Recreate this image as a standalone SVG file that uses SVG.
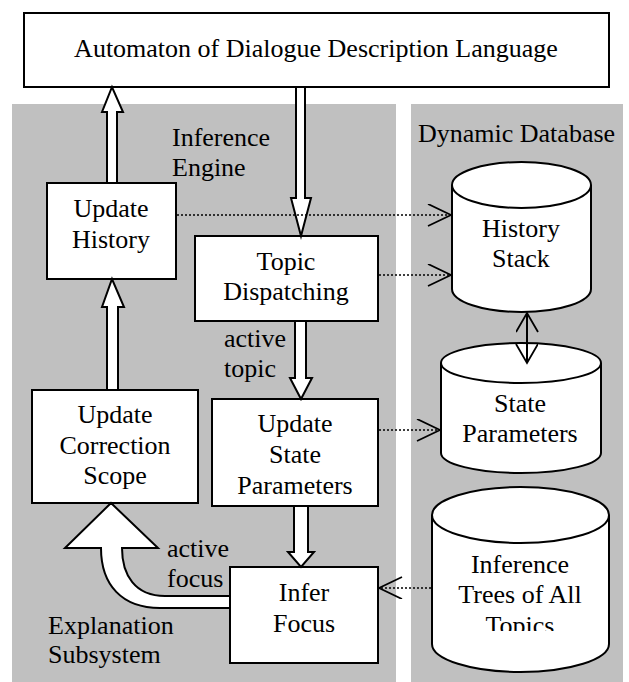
<svg xmlns="http://www.w3.org/2000/svg" width="629" height="682" viewBox="0 0 629 682">
  <style>
    .panel { fill: #c0c0c0; }
    .box { fill: #ffffff; stroke: #000000; stroke-width: 2; }
    .flow { fill: #ffffff; stroke: #000000; stroke-width: 2; stroke-linejoin: miter; }
    .dots { fill: none; stroke: #000000; stroke-width: 1.6; stroke-dasharray: 2 2; }
    .solid { fill: none; stroke: #000000; stroke-width: 2; }
    text { font-family: "Liberation Serif", "Times New Roman", serif; font-size: 26px; fill: #000000; }
    .c { text-anchor: middle; }
  </style>
  <defs>
    <marker id="vee" markerUnits="userSpaceOnUse" markerWidth="26" markerHeight="24" refX="24" refY="11" orient="auto-start-reverse" viewBox="0 0 26 24">
      <path d="M1,0 L24,11 L1,22" fill="none" stroke="#000000" stroke-width="1.8"/>
    </marker>
    <marker id="veeSmall" markerUnits="userSpaceOnUse" markerWidth="22" markerHeight="24" refX="20" refY="11" orient="auto-start-reverse" viewBox="0 0 22 24">
      <path d="M1,0 L20,11 L1,22" fill="none" stroke="#000000" stroke-width="1.8"/>
    </marker>
    <clipPath id="trees-clip">
      <rect x="430" y="540" width="180" height="91"/>
    </clipPath>
  </defs>

  <!-- background panels -->
  <rect class="panel" x="12" y="104" width="384" height="578"/>
  <rect class="panel" x="411" y="104" width="212" height="578"/>
  <text x="172" y="146">Inference</text>
  <text x="172" y="176">Engine</text>
  <text x="48" y="634">Explanation</text>
  <text x="48" y="663">Subsystem</text>
  <text x="418" y="142">Dynamic Database</text>

  <!-- process nodes -->
  <g id="automaton">
    <rect class="box" x="24" y="13" width="585" height="74"/>
    <text class="c" x="316" y="57">Automaton of Dialogue Description Language</text>
  </g>
  <g id="update-history">
    <rect class="box" x="47" y="183" width="129" height="96"/>
    <text class="c" x="111" y="217">Update</text>
    <text class="c" x="111" y="248">History</text>
  </g>
  <g id="topic-dispatching">
    <rect class="box" x="195" y="236" width="183" height="85"/>
    <text class="c" x="286" y="270">Topic</text>
    <text class="c" x="286" y="300">Dispatching</text>
  </g>
  <g id="update-correction-scope">
    <rect class="box" x="32" y="390" width="166" height="113"/>
    <text class="c" x="115" y="423">Update</text>
    <text class="c" x="115" y="454">Correction</text>
    <text class="c" x="115" y="484">Scope</text>
  </g>
  <g id="update-state-parameters">
    <rect class="box" x="212" y="399" width="166" height="107"/>
    <text class="c" x="295" y="432">Update</text>
    <text class="c" x="295" y="463">State</text>
    <text class="c" x="295" y="494">Parameters</text>
  </g>
  <g id="infer-focus">
    <rect class="box" x="230" y="567" width="148" height="96"/>
    <text class="c" x="304" y="601">Infer</text>
    <text class="c" x="304" y="632">Focus</text>
  </g>

  <!-- data stores -->
  <g id="history-stack">
    <path class="box" d="M452,185 L452,289 A69.5,23 0 0 0 591,289 L591,185 A69.5,23 0 0 0 452,185 Z"/>
    <path class="box" d="M452,185 A69.5,23 0 0 0 591,185" fill="none"/>
    <text class="c" x="521" y="237">History</text>
    <text class="c" x="521" y="267">Stack</text>
  </g>
  <g id="state-parameters">
    <path class="box" d="M441,363 L441,453 A80,20 0 0 0 601,453 L601,363 A80,20 0 0 0 441,363 Z"/>
    <path class="box" d="M441,363 A80,20 0 0 0 601,363" fill="none"/>
    <text class="c" x="520" y="412">State</text>
    <text class="c" x="520" y="442">Parameters</text>
  </g>
  <g id="inference-trees">
    <path class="box" d="M432,515 L432,644 A88.5,28 0 0 0 609,644 L609,515 A88.5,28 0 0 0 432,515 Z"/>
    <path class="box" d="M432,515 A88.5,28 0 0 0 609,515" fill="none"/>
    <g clip-path="url(#trees-clip)">
      <text class="c" x="520" y="573">Inference</text>
      <text class="c" x="520" y="603">Trees of All</text>
      <text class="c" x="520" y="634">Topics</text>
    </g>
  </g>

  <!-- connectors -->
  <g id="connectors">
    <!-- block arrows between processes -->
    <path class="flow" d="M107,183 L107,112 L102,112 L112,87 L123,112 L117,112 L117,183 Z"/>
    <path class="flow" d="M296,87 L296,198 L291,198 L301,236 L311,198 L305,198 L305,87 Z"/>
    <path class="flow" d="M107,390 L107,307 L102,307 L112,279 L124,307 L118,307 L118,390 Z"/>
    <path class="flow" d="M295,321 L295,378 L290,378 L301,399 L312,378 L306,378 L306,321 Z"/>
    <path class="flow" d="M294,506 L294,552 L288,552 L301,567 L314,552 L308,552 L308,506 Z"/>
    <path class="flow" d="M229,596 L165,596 C135,596 122,575 122,548 L158,548 L111,503 L65,548 L101,548 C101,585 122,608 160,608 L229,608"/>
    <text x="224" y="347">active</text>
    <text x="224" y="377">topic</text>
    <text x="167" y="557">active</text>
    <text x="167" y="587">focus</text>

    <!-- data access (dotted) -->
    <line class="dots" x1="177" y1="215" x2="451" y2="215" marker-end="url(#vee)"/>
    <line class="dots" x1="379" y1="275" x2="451" y2="275" marker-end="url(#vee)"/>
    <line class="dots" x1="379" y1="430" x2="440" y2="430" marker-end="url(#vee)"/>
    <line class="dots" x1="431" y1="588" x2="379" y2="588" marker-end="url(#vee)"/>
    <line class="solid" x1="527" y1="313" x2="527" y2="363" marker-start="url(#veeSmall)" marker-end="url(#veeSmall)"/>
  </g>
</svg>
